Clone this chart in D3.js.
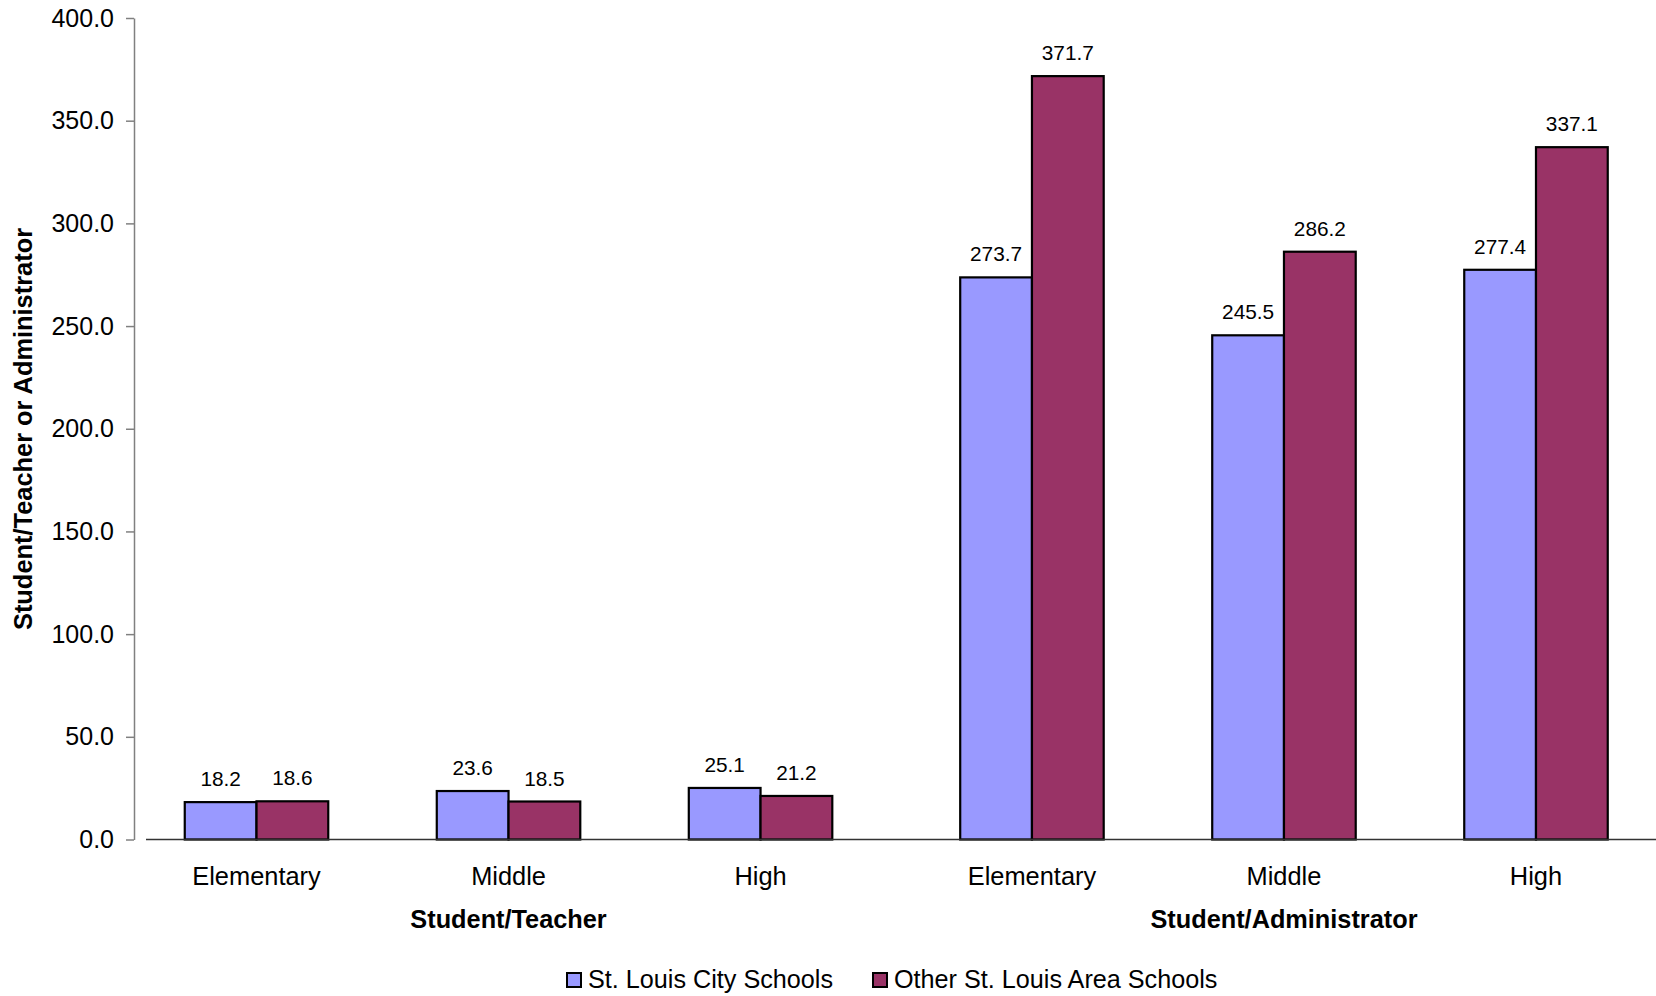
<!DOCTYPE html>
<html>
<head>
<meta charset="utf-8">
<script src="https://cdn.jsdelivr.net/npm/d3@7"></script>
<style>
  html, body { margin: 0; padding: 0; background: #ffffff; }
  svg { display: block; font-family: "Liberation Sans", Arial, sans-serif; }
</style>
</head>
<body>
<svg id="chart" width="1656" height="996"></svg>
<script>
// Ratio categories
const groups = ["Student/Teacher", "Student/Administrator"];
const levels = ["Elementary", "Middle", "High"];
const seriesNames = ["St. Louis City Schools", "Other St. Louis Area Schools"];

// Values per series, ordered group by group, level by level
const cityValues  = [18.2, 23.6, 25.1, 273.7, 245.5, 277.4];
const otherValues = [18.6, 18.5, 21.2, 371.7, 286.2, 337.1];

const yTicks = [0, 50, 100, 150, 200, 250, 300, 350, 400];
const colors = ["#9999FF", "#993366"];

const svg = d3.select("#chart");

const y = d3.scaleLinear().domain([0, 400]).range([839.5, 18]);

const outer = d3.scaleBand().domain(groups).range([130.5, 1662]).paddingInner(0.025);
const inner = d3.scaleBand().domain(levels).range([0, outer.bandwidth()])
  .paddingInner(0.4306).paddingOuter(0.2153);
const sub = d3.scaleBand().domain(seriesNames).range([0, inner.bandwidth()]);

const rows = [];
groups.forEach((g, gi) => {
  levels.forEach((l, li) => {
    const i = gi * levels.length + li;
    rows.push({ group: g, level: l, series: seriesNames[0], value: cityValues[i], ci: 0 });
    rows.push({ group: g, level: l, series: seriesNames[1], value: otherValues[i], ci: 1 });
  });
});
const barX = d => outer(d.group) + inner(d.level) + sub(d.series);

// Y axis
const yAxis = d3.axisLeft(y).tickValues(yTicks).tickFormat(d3.format(".1f"))
  .tickSize(8).tickSizeOuter(0).tickPadding(12);
const gy = svg.append("g").attr("transform", "translate(134,0)").call(yAxis);
gy.select(".domain").attr("stroke", "#808080").attr("stroke-width", 1.5);
gy.selectAll(".tick line").attr("stroke", "#808080").attr("stroke-width", 1.5);
gy.selectAll(".tick text").attr("fill", "#000").style("font-size", "25px")
  .style("font-family", "'Liberation Sans', Arial, sans-serif");

// Bars
svg.append("g").selectAll("rect").data(rows).join("rect")
  .attr("x", barX)
  .attr("y", d => y(d.value))
  .attr("width", sub.bandwidth())
  .attr("height", d => y(0) - y(d.value))
  .attr("fill", d => colors[d.ci])
  .attr("stroke", "#000")
  .attr("stroke-width", 2.2);

// Category baseline
svg.append("line")
  .attr("x1", 146).attr("x2", 1656)
  .attr("y1", y(0)).attr("y2", y(0))
  .attr("stroke", "#333").attr("stroke-width", 1.5);

// Value labels
svg.append("g").selectAll("text").data(rows).join("text")
  .attr("x", d => barX(d) + sub.bandwidth() / 2)
  .attr("y", d => y(d.value) - 16)
  .attr("text-anchor", "middle")
  .style("font-size", "20.8px")
  .attr("fill", "#000")
  .text(d => d.value.toFixed(1));

// Level labels
const levelLabels = [];
groups.forEach(g => levels.forEach(l => levelLabels.push({ g, l })));
svg.append("g").selectAll("text").data(levelLabels).join("text")
  .attr("x", d => outer(d.g) + inner(d.l) + inner.bandwidth() / 2)
  .attr("y", 885)
  .attr("text-anchor", "middle")
  .style("font-size", "25.4px")
  .attr("fill", "#000")
  .text(d => d.l);

// Group labels
svg.append("g").selectAll("text").data(groups).join("text")
  .attr("x", g => outer(g) + outer.bandwidth() / 2)
  .attr("y", 928)
  .attr("text-anchor", "middle")
  .style("font-size", "25.3px")
  .style("font-weight", "bold")
  .attr("fill", "#000")
  .text(g => g);

// Y axis title
svg.append("text")
  .attr("transform", "translate(32,429) rotate(-90)")
  .attr("text-anchor", "middle")
  .style("font-size", "25.4px")
  .style("font-weight", "bold")
  .attr("fill", "#000")
  .text("Student/Teacher or Administrator");

// Legend
const legendX = [566, 872];
const legend = svg.append("g").selectAll("g").data(seriesNames).join("g")
  .attr("transform", (d, i) => `translate(${legendX[i]},972)`);
legend.append("rect")
  .attr("x", 1).attr("y", 1).attr("width", 14).attr("height", 14)
  .attr("fill", (d, i) => colors[i]).attr("stroke", "#000").attr("stroke-width", 2);
legend.append("text")
  .attr("x", 22).attr("y", 16)
  .style("font-size", "25.2px")
  .attr("fill", "#000")
  .text(d => d);
</script>
</body>
</html>
